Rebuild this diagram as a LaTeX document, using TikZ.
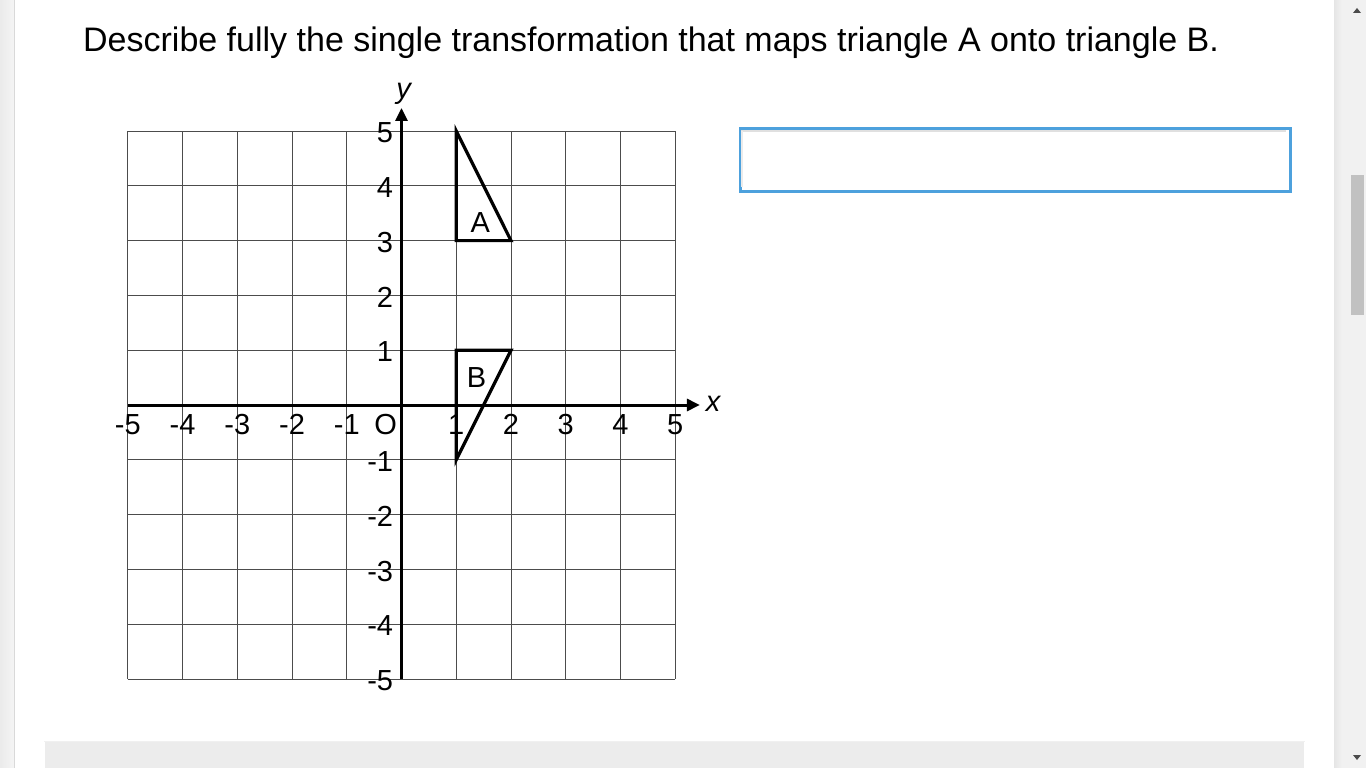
\documentclass[tikz,border=0pt]{standalone}
\usepackage{fontspec}
\setmainfont{Liberation Sans}
\usetikzlibrary{arrows.meta}
\definecolor{boxblue}{RGB}{77,161,221}
\definecolor{panelgray}{RGB}{236,236,236}
\definecolor{trackgray}{RGB}{241,241,241}
\definecolor{thumbgray}{RGB}{193,193,193}
\tikzset{
  gridline/.style={draw=black!70, line width=1pt},
  axisline/.style={line width=3pt, -{Triangle[length=13pt,width=12pt]}},
  shapeline/.style={line width=3.2pt, line join=miter},
  ticklbl/.style={font=\fontsize{29}{32}\selectfont, inner sep=0pt},
  axislbl/.style={font=\fontsize{29}{32}\selectfont\itshape, inner sep=0pt},
  titletext/.style={font=\fontsize{34}{40}\selectfont, inner sep=0pt, anchor=base west},
}
\begin{document}
\begin{tikzpicture}[x=1pt,y=-1pt]
\useasboundingbox (0,0) rectangle (1366,768);
\fill[white] (0,0) rectangle (1366,768);
% left browser strip
\shade[left color=black!8, right color=black!4] (0,0) rectangle (14,768);
\draw[black!15, line width=1pt] (14,0) -- (14,768);
% right scrollbar
\shade[left color=black!10, right color=trackgray] (1334,0) rectangle (1342,768);
\fill[trackgray] (1342,0) rectangle (1366,768);
\fill[thumbgray] (1351,175) rectangle (1364,315);
\fill[black!70] (1353,13) -- (1361,13) -- (1357,8) -- cycle;
\fill[black!70] (1353,755) -- (1361,755) -- (1357,760) -- cycle;
% bottom panel
\fill[panelgray] (45,742) rectangle (1304,768);
\draw[black!6, line width=1pt] (44,741) -- (1305,741);
% title
\node[titletext] (title) at (83,52) {Describe fully the single transformation that maps triangle A onto triangle B.};
% answer box
\node[draw=boxblue, line width=3pt, minimum width=550pt, minimum height=63pt, inner sep=0pt, anchor=north west] (answer) at (739,127) {};
\draw[black!12, line width=2pt] (741,131) -- (1286,131);
\draw[black!8, line width=2pt] (742,131) -- (742,187);
% graph
\begin{scope}[shift={(401.5,405)}, x=54.75pt, y=54.8pt]
  \foreach \k in {-5,...,5} {
    \draw[gridline] (\k,-5) -- (\k,5);
    \draw[gridline] (-5,\k) -- (5,\k);
  }
  \coordinate (xs) at (-5,0);
  \coordinate (xe) at (5.45,0);
  \coordinate (ys) at (0,-5);
  \coordinate (ye) at (0,5.42);
  \draw[axisline] (xs) -- (xe);
  \draw[axisline] (ys) -- (ye);
  \node[axislbl] (xlbl) at (5.69,0.02) {x};
  \node[axislbl] (ylbl) at (0.04,5.68) {y};
  % x tick labels
  \foreach \i in {-5,-4,-3,-2,-1,1,2,3,4,5} {
    \node[ticklbl] (xt\i) at (\i,-0.36) {\i};
  }
  \node[ticklbl] (orig) at (-0.29,-0.36) {O};
  % y tick labels
  \foreach \j in {-5,-4,-3,-2,-1,1,2,3,4,5} {
    \node[ticklbl, anchor=east] (yt\j) at (-0.15,\j-0.03) {\j};
  }
  % triangle A
  \coordinate (a1) at (1,5);
  \coordinate (a2) at (1,3);
  \coordinate (a3) at (2,3);
  \draw[shapeline] (a1) -- (a2) -- (a3) -- cycle;
  \node[ticklbl] (labA) at (1.44,3.33) {A};
  % triangle B
  \coordinate (b1) at (1,1);
  \coordinate (b2) at (2,1);
  \coordinate (b3) at (1,-1);
  \draw[shapeline] (b1) -- (b2) -- (b3) -- cycle;
  \node[ticklbl] (labB) at (1.37,0.5) {B};
\end{scope}
\end{tikzpicture}
\end{document}
